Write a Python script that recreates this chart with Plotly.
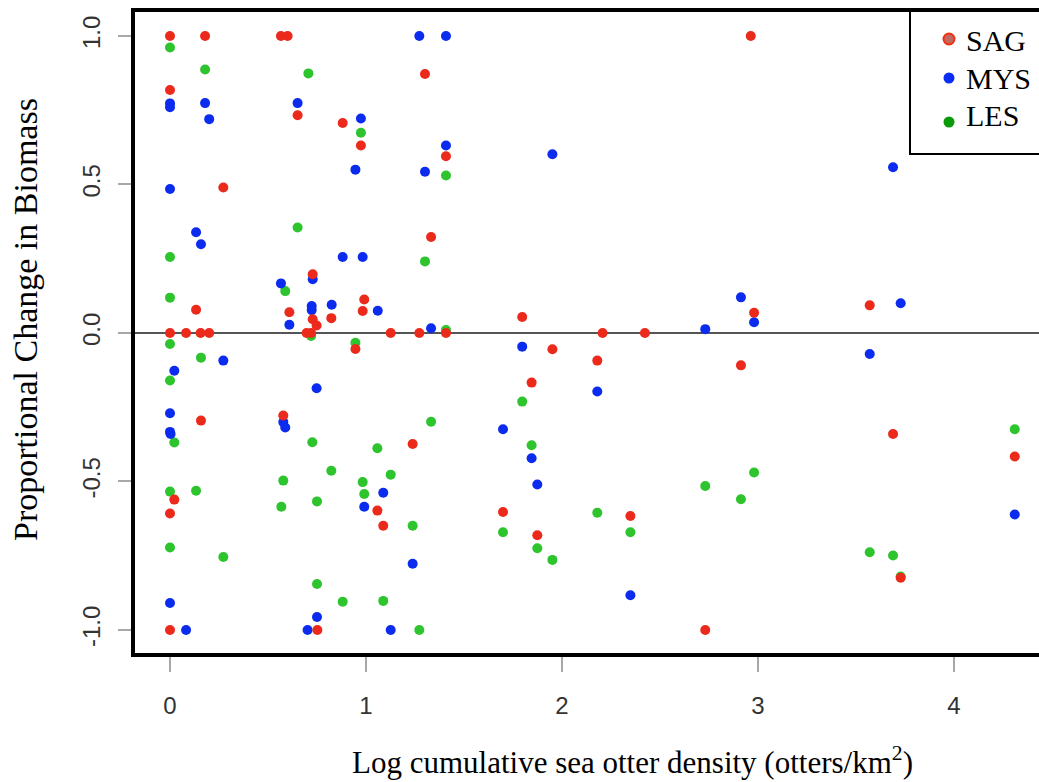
import plotly.graph_objects as go

# ---- data ----
sag_x = [0, 0.179, 0.566, 0.6, 1.301, 0, 0.651, 0.881, 0.974, 1.408, 0.272, 1.332, 0.728,
         0.133, 0.609, 0.728, 0.748, 0.697, 0.72, 0.823, 0.991, 0.983, 0, 0.082, 0.156, 0.2,
         1.126, 1.272, 1.408, 0.946, 0.158, 0.578, 1.238, 0.022, 0, 1.058, 1.088, 0, 0.752,
         2.963, 2.98, 1.797, 2.207, 2.423, 1.951, 2.18, 2.913, 1.845, 1.699, 2.349, 1.874,
         2.731, 3.57, 3.689, 4.31, 3.728]
sag_y = [1.0, 1.0, 1.0, 1.0, 0.872, 0.818, 0.733, 0.707, 0.631, 0.595, 0.490, 0.323, 0.198,
         0.078, 0.070, 0.046, 0.025, 0.0, 0.0, 0.05, 0.113, 0.074, 0.0, 0.0, 0.0, 0.0,
         0.0, 0.0, 0.0, -0.054, -0.295, -0.278, -0.374, -0.561, -0.608, -0.598, -0.649, -1.0, -1.0,
         1.0, 0.068, 0.054, 0.0, 0.0, -0.055, -0.093, -0.109, -0.167, -0.603, -0.616, -0.681,
         -1.0, 0.093, -0.34, -0.416, -0.824]

mys_x = [1.272, 1.408, 0, 0, 0.179, 0.2, 0.651, 0.974, 0.946, 1.408, 1.301, 0, 0.133, 0.158,
         0.881, 0.983, 0.728, 0.566, 0.723, 0.723, 0.825, 1.06, 0.609, 1.332,
         0.272, 0.022, 0.748, 0, 0.578, 0.588, 0, 0.003, 1.088, 0.991, 1.238, 0, 0.75,
         0.082, 0.702, 1.126,
         1.951, 2.913, 2.98, 2.731, 1.797, 2.18, 1.699, 1.845, 1.874, 2.349, 3.689, 3.728,
         3.57, 4.31]
mys_y = [1.0, 1.0, 0.773, 0.760, 0.774, 0.72, 0.774, 0.722, 0.550, 0.631, 0.543, 0.485, 0.339,
         0.299, 0.256, 0.256, 0.181, 0.167, 0.091, 0.077, 0.095, 0.075, 0.028, 0.016,
         -0.093, -0.127, -0.186, -0.27, -0.30, -0.318, -0.333, -0.34, -0.538, -0.585, -0.777,
         -0.909, -0.956, -1.0, -1.0, -1.0,
         0.602, 0.120, 0.036, 0.013, -0.046, -0.197, -0.324, -0.422, -0.51, -0.883, 0.558, 0.1,
         -0.071, -0.611]

les_x = [0, 0.179, 0.706, 0.974, 1.408, 0.651, 0, 1.301, 0.588, 0, 0.72, 1.408, 0.946, 0,
         0.158, 0, 0.022, 0.726, 1.058, 1.332, 0.823, 1.126, 0.578, 0.983, 0, 0.133, 0.991,
         0.75, 0.568, 1.238, 0, 0.272, 0.75, 0.881, 1.088, 1.272,
         1.797, 1.845, 2.98, 2.731, 2.913, 2.18, 1.699, 2.349, 1.874, 1.951, 4.31, 3.57,
         3.689, 3.728]
les_y = [0.961, 0.887, 0.874, 0.674, 0.530, 0.355, 0.256, 0.241, 0.141, 0.119, -0.01, 0.01,
         -0.033, -0.037, -0.083, -0.16, -0.369, -0.368, -0.388, -0.299, -0.464, -0.477, -0.497,
         -0.502, -0.534, -0.531, -0.542, -0.567, -0.585, -0.649, -0.722, -0.754, -0.845,
         -0.905, -0.902, -1.0,
         -0.231, -0.378, -0.47, -0.515, -0.56, -0.605, -0.671, -0.671, -0.725, -0.764, -0.324,
         -0.738, -0.749, -0.82]

x_ticks = [0, 1, 2, 3, 4]
y_ticks = [-1.0, -0.5, 0.0, 0.5, 1.0]
y_tick_text = ["-1.0", "-0.5", "0.0", "0.5", "1.0"]

series_names = ["SAG", "MYS", "LES"]

RED = "#EC2A1C"
BLUE = "#0B2CEF"
GREEN = "#2EC42E"

L, T, B = 133, 10, 127
W, H = 1039, 782
PW, PH = W - L, H - T - B


def px(x):
    return (x - L) / PW


def py(y):
    return (H - B - y) / PH


fig = go.Figure()

# data traces (drawn LES, MYS, SAG so red sits on top)
for xs, ys, col, nm in [(les_x, les_y, GREEN, "LES"), (mys_x, mys_y, BLUE, "MYS"),
                        (sag_x, sag_y, RED, "SAG")]:
    fig.add_trace(go.Scatter(x=xs, y=ys, mode="markers", name=nm, showlegend=False,
                             marker=dict(color=col, size=10, line=dict(width=0))))

# R-style legend box drawn with shapes + text
leg_marker_y = [39, 78, 122]
leg_text_y = [40.5, 78.5, 115.5]
leg_fill = ["#C06A62", "#0A2CF5", "#0A9A0A"]
leg_line = ["#F2300F", "#0A2CF5", "#0A9A0A"]

shapes = [
    dict(type="rect", xref="paper", yref="paper", x0=px(910), x1=1.05, y0=py(154), y1=py(10),
         line=dict(color="black", width=2), fillcolor="white", layer="above"),
    dict(type="rect", xref="paper", yref="paper", x0=0, x1=1.05, y0=0, y1=1,
         line=dict(color="black", width=4), layer="above"),
]
annotations = []
for i, nm in enumerate(series_names):
    r = 5.5
    shapes.append(dict(type="circle", xref="paper", yref="paper",
                       xsizemode="pixel", ysizemode="pixel",
                       xanchor=px(949), yanchor=py(leg_marker_y[i]),
                       x0=-r, x1=r, y0=-r, y1=r,
                       fillcolor=leg_fill[i],
                       line=dict(color=leg_line[i], width=2 if i == 0 else 0),
                       layer="above"))
    annotations.append(dict(text=nm, xref="paper", yref="paper", x=px(964), y=py(leg_text_y[i]),
                            xanchor="left", yanchor="middle", showarrow=False,
                            font=dict(family="Liberation Serif", size=30, color="black")))

annotations += [
    dict(text="Log cumulative sea otter density (otters/km<sup>2</sup>)",
         xref="paper", yref="paper", x=px(632), y=py(760),
         xanchor="center", yanchor="middle", showarrow=False,
         font=dict(family="Liberation Serif", size=31, color="black")),
    dict(text="Proportional Change in Biomass",
         xref="paper", yref="paper", x=px(25), y=py(320),
         xanchor="center", yanchor="middle", showarrow=False, textangle=-90,
         font=dict(family="Liberation Serif", size=34, color="black")),
]

fig.update_layout(
    width=W, height=H,
    margin=dict(l=L, r=0, t=T, b=B, pad=0, autoexpand=False),
    paper_bgcolor="white", plot_bgcolor="white",
    showlegend=False,
    xaxis=dict(range=[-0.1888, 4.4337], showgrid=False, zeroline=False,
               tickmode="array", tickvals=x_ticks, ticks="outside", ticklen=16,
               tickcolor="#a8a8a8", tickwidth=1.5, showline=False,
               ticklabelstandoff=13,
               tickfont=dict(family="Liberation Sans", size=24, color="#333333")),
    yaxis=dict(range=[-1.0842, 1.0875], showgrid=False,
               zeroline=True, zerolinecolor="#555555", zerolinewidth=1.5,
               tickmode="array", tickvals=y_ticks, ticktext=y_tick_text,
               ticks="outside", ticklen=14, tickcolor="#a8a8a8", tickwidth=1.5,
               showline=False, tickangle=-90, ticklabelstandoff=8,
               tickfont=dict(family="Liberation Sans", size=24, color="#333333")),
    shapes=shapes,
    annotations=annotations,
)

fig.write_html("out.html")
